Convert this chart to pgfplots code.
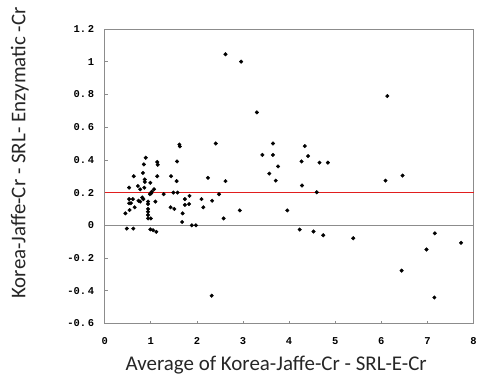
\documentclass[border=0pt]{standalone}
\usepackage{pgfplots}
\pgfplotsset{compat=1.18}
\usepackage{fontspec}
\setmainfont{Carlito}
\newfontfamily\tickfont{Liberation Mono}
\definecolor{axgray}{RGB}{140,140,140}
\definecolor{redline}{RGB}{225,30,30}
\begin{document}
\begin{tikzpicture}[x=1pt,y=1pt]
\begin{axis}[
  at={(0,0)}, anchor=south west,
  scale only axis, width=370pt, height=295.5pt,
  xmin=0, xmax=8, ymin=-0.6, ymax=1.2,
  xtick={0,1,...,8}, ytick={-0.6,-0.4,-0.2,0,0.2,0.4,0.6,0.8,1,1.2},
  xticklabels={0,1,2,3,4,5,6,7,8},
  yticklabels={-0.\,6,-0.\,4,-0.\,2,0,0.\,2,0.\,4,0.\,6,0.\,8,1,1.\,2},
  /pgf/number format/assume math mode=true,
  tick label style={font=\tickfont\bfseries\fontsize{10.5}{11}\selectfont, text=black},
  tick align=inside, major tick length=3pt,
  xtick pos=bottom, ytick pos=left,
  axis line style={axgray, line width=0.8pt},
  tick style={axgray, line width=0.6pt},
  xticklabel style={yshift=-11pt},
  yticklabel style={xshift=-7pt},
  xlabel={Average of Korea-Jaffe-Cr - SRL-E-Cr},
  ylabel={Korea-Jaffe-Cr - SRL- Enzymatic -Cr},
  xlabel style={font=\fontsize{21}{22}\selectfont, text=black!85, at={(axis description cs:0.465,0)}, anchor=base, yshift=-47pt},
  ylabel style={font=\fontsize{21}{24}\selectfont, text=black!85, at={(axis description cs:0,0.579)}, anchor=base, yshift=79.5pt},
  clip=false,
]
\addplot[draw=redline, line width=1.4pt, forget plot] coordinates {(0,0.2) (8,0.2)};
\addplot[draw=axgray, line width=0.8pt, forget plot] coordinates {(0,0) (8,0)};
\addplot[only marks, mark=*, mark size=1.8pt, black] coordinates {
(0.89,0.413) (0.85,0.372) (1.14,0.387) (1.15,0.37) (1.57,0.39)
(1.62,0.494) (1.63,0.482) (2.41,0.50) (2.62,1.045) (2.96,1.0)
(3.30,0.69) (3.42,0.43) (3.65,0.50) (3.65,0.43) (3.76,0.36)
(6.13,0.79) (4.34,0.484) (4.41,0.423) (4.27,0.39) (4.66,0.383) (4.84,0.383)
(3.57,0.316) (3.71,0.273) (4.28,0.243) (4.60,0.202) (6.09,0.273) (6.46,0.304)
(3.96,0.091) (4.23,-0.026) (4.53,-0.038) (4.74,-0.061) (5.39,-0.079)
(7.16,-0.049) (6.98,-0.148) (7.73,-0.107) (6.44,-0.277) (7.15,-0.441)
(0.63,0.30) (0.83,0.32) (1.14,0.30) (1.44,0.30) (0.87,0.28) (0.87,0.265)
(0.99,0.26) (1.56,0.27) (0.53,0.23) (0.72,0.24) (0.77,0.22) (0.86,0.23)
(1.07,0.22) (1.02,0.205) (1.01,0.195) (0.98,0.19) (1.28,0.19) (1.49,0.20) (1.58,0.20)
(2.24,0.29) (2.62,0.27) (2.48,0.19)
(0.53,0.16) (0.61,0.16) (0.53,0.135) (0.57,0.135) (0.735,0.15) (0.77,0.145)
(0.815,0.17) (0.84,0.16) (0.94,0.145) (0.94,0.13) (1.10,0.145)
(1.74,0.16) (1.84,0.18) (1.74,0.125) (1.83,0.13) (2.10,0.16) (2.33,0.15)
(1.43,0.11) (1.51,0.10) (2.14,0.11) (0.65,0.11) (0.54,0.093) (0.45,0.073)
(0.94,0.10) (0.94,0.083) (0.94,0.063) (0.94,0.042) (1.0,0.042)
(1.69,0.073) (1.68,0.02) (1.89,0.0) (1.98,0.0) (2.58,0.042) (2.93,0.091)
(0.48,-0.02) (0.62,-0.02) (0.99,-0.025) (1.05,-0.03) (1.12,-0.04)
(2.32,-0.43)
};
\end{axis}
\path (-105,-51) rectangle (375,324.5);
\end{tikzpicture}
\end{document}
